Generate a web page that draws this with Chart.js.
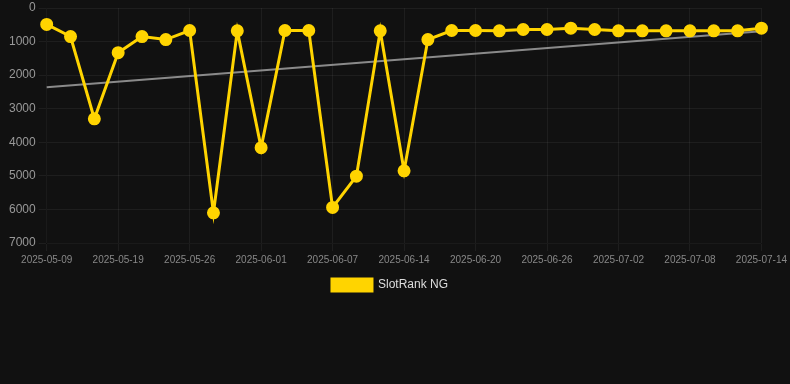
<!DOCTYPE html>
<html>
<head>
<meta charset="utf-8">
<script src="https://cdn.jsdelivr.net/npm/chart.js@4.4.1/dist/chart.umd.min.js"></script>
<style>
    html, body { margin: 0; padding: 0; background: #111111; }
    #wrap { width: 790px; height: 301px; position: relative; }
</style>
</head>
<body>
<div id="wrap"><canvas id="rankChart"></canvas></div>
<script>
"use strict";

// dates of the samples (only every third one gets a label on the axis)
var days = [
    '2025-05-09', '2025-05-12', '2025-05-16', '2025-05-19', '2025-05-21', '2025-05-24',
    '2025-05-26', '2025-05-28', '2025-05-30', '2025-06-01', '2025-06-03', '2025-06-05',
    '2025-06-07', '2025-06-09', '2025-06-12', '2025-06-14', '2025-06-16', '2025-06-18',
    '2025-06-20', '2025-06-22', '2025-06-24', '2025-06-26', '2025-06-28', '2025-06-30',
    '2025-07-02', '2025-07-04', '2025-07-06', '2025-07-08', '2025-07-10', '2025-07-12',
    '2025-07-14'
];

// rank values
var ranks = [
    490, 850, 3300, 1330, 850, 940,
    670, 6100, 680, 4160, 670, 670,
    5940, 5010, 680, 4850, 940, 670,
    670, 680, 640, 640, 600, 640,
    680, 680, 680, 680, 680, 680,
    600
];

// trend line: only both ends are known, gaps are spanned
var trendStart = 2360;
var trendEnd = 690;

var yTicks = [0, 1000, 2000, 3000, 4000, 5000, 6000, 7000];

var trend = days.map(function (d, i) {
    if (i === 0) return trendStart;
    if (i === days.length - 1) return trendEnd;
    return null;
});

var gridColor = 'rgba(255, 255, 255, 0.055)';

new Chart(document.getElementById('rankChart'), {
    type: 'line',
    data: {
        labels: days,
        datasets: [{
            label: 'SlotRank NG',
            data: ranks,
            borderColor: '#FFD400',
            backgroundColor: '#FFD400',
            borderWidth: 3,
            pointRadius: 5,
            pointBackgroundColor: '#FFD400',
            pointBorderColor: '#FFD400',
            tension: 0,
            order: 1
        },
            {
                label: 'trend',
                data: trend,
                spanGaps: true,
                borderColor: 'rgba(160, 160, 160, 0.85)',
                backgroundColor: 'rgba(160, 160, 160, 0.85)',
                borderWidth: 2,
                pointRadius: 0,
                tension: 0,
                order: 2
            }]
    },
    options: {
        responsive: true,
        maintainAspectRatio: false,
        animation: false,
        layout: {
            padding: { left: 0, right: 10, top: 0, bottom: 0 }
        },
        scales: {
            x: {
                grid: { color: gridColor },
                ticks: {
                    color: '#888888',
                    font: { size: 10 },
                    maxRotation: 0,
                    autoSkip: true,
                    callback: function (val, idx) {
                        return idx % 3 === 0 ? this.getLabelForValue(val) : null;
                    }
                }
            },
            y: {
                reverse: true,
                min: 0,
                max: 7000,
                grid: { color: gridColor },
                afterBuildTicks: function (axis) {
                    axis.ticks = yTicks.map(function (v) { return { value: v }; });
                },
                afterFit: function (axis) {
                    axis.width += 6;
                },
                ticks: {
                    color: '#999999',
                    font: { size: 12, lineHeight: 0.6 },
                    callback: function (val) {
                        return String(val);
                    }
                }
            }
        },
        plugins: {
            legend: {
                position: 'bottom',
                labels: {
                    color: '#dddddd',
                    font: { size: 12 },
                    filter: function (item) {
                        return item.text === 'SlotRank NG';
                    }
                }
            },
            tooltip: { enabled: false }
        }
    }
});
</script>
</body>
</html>
